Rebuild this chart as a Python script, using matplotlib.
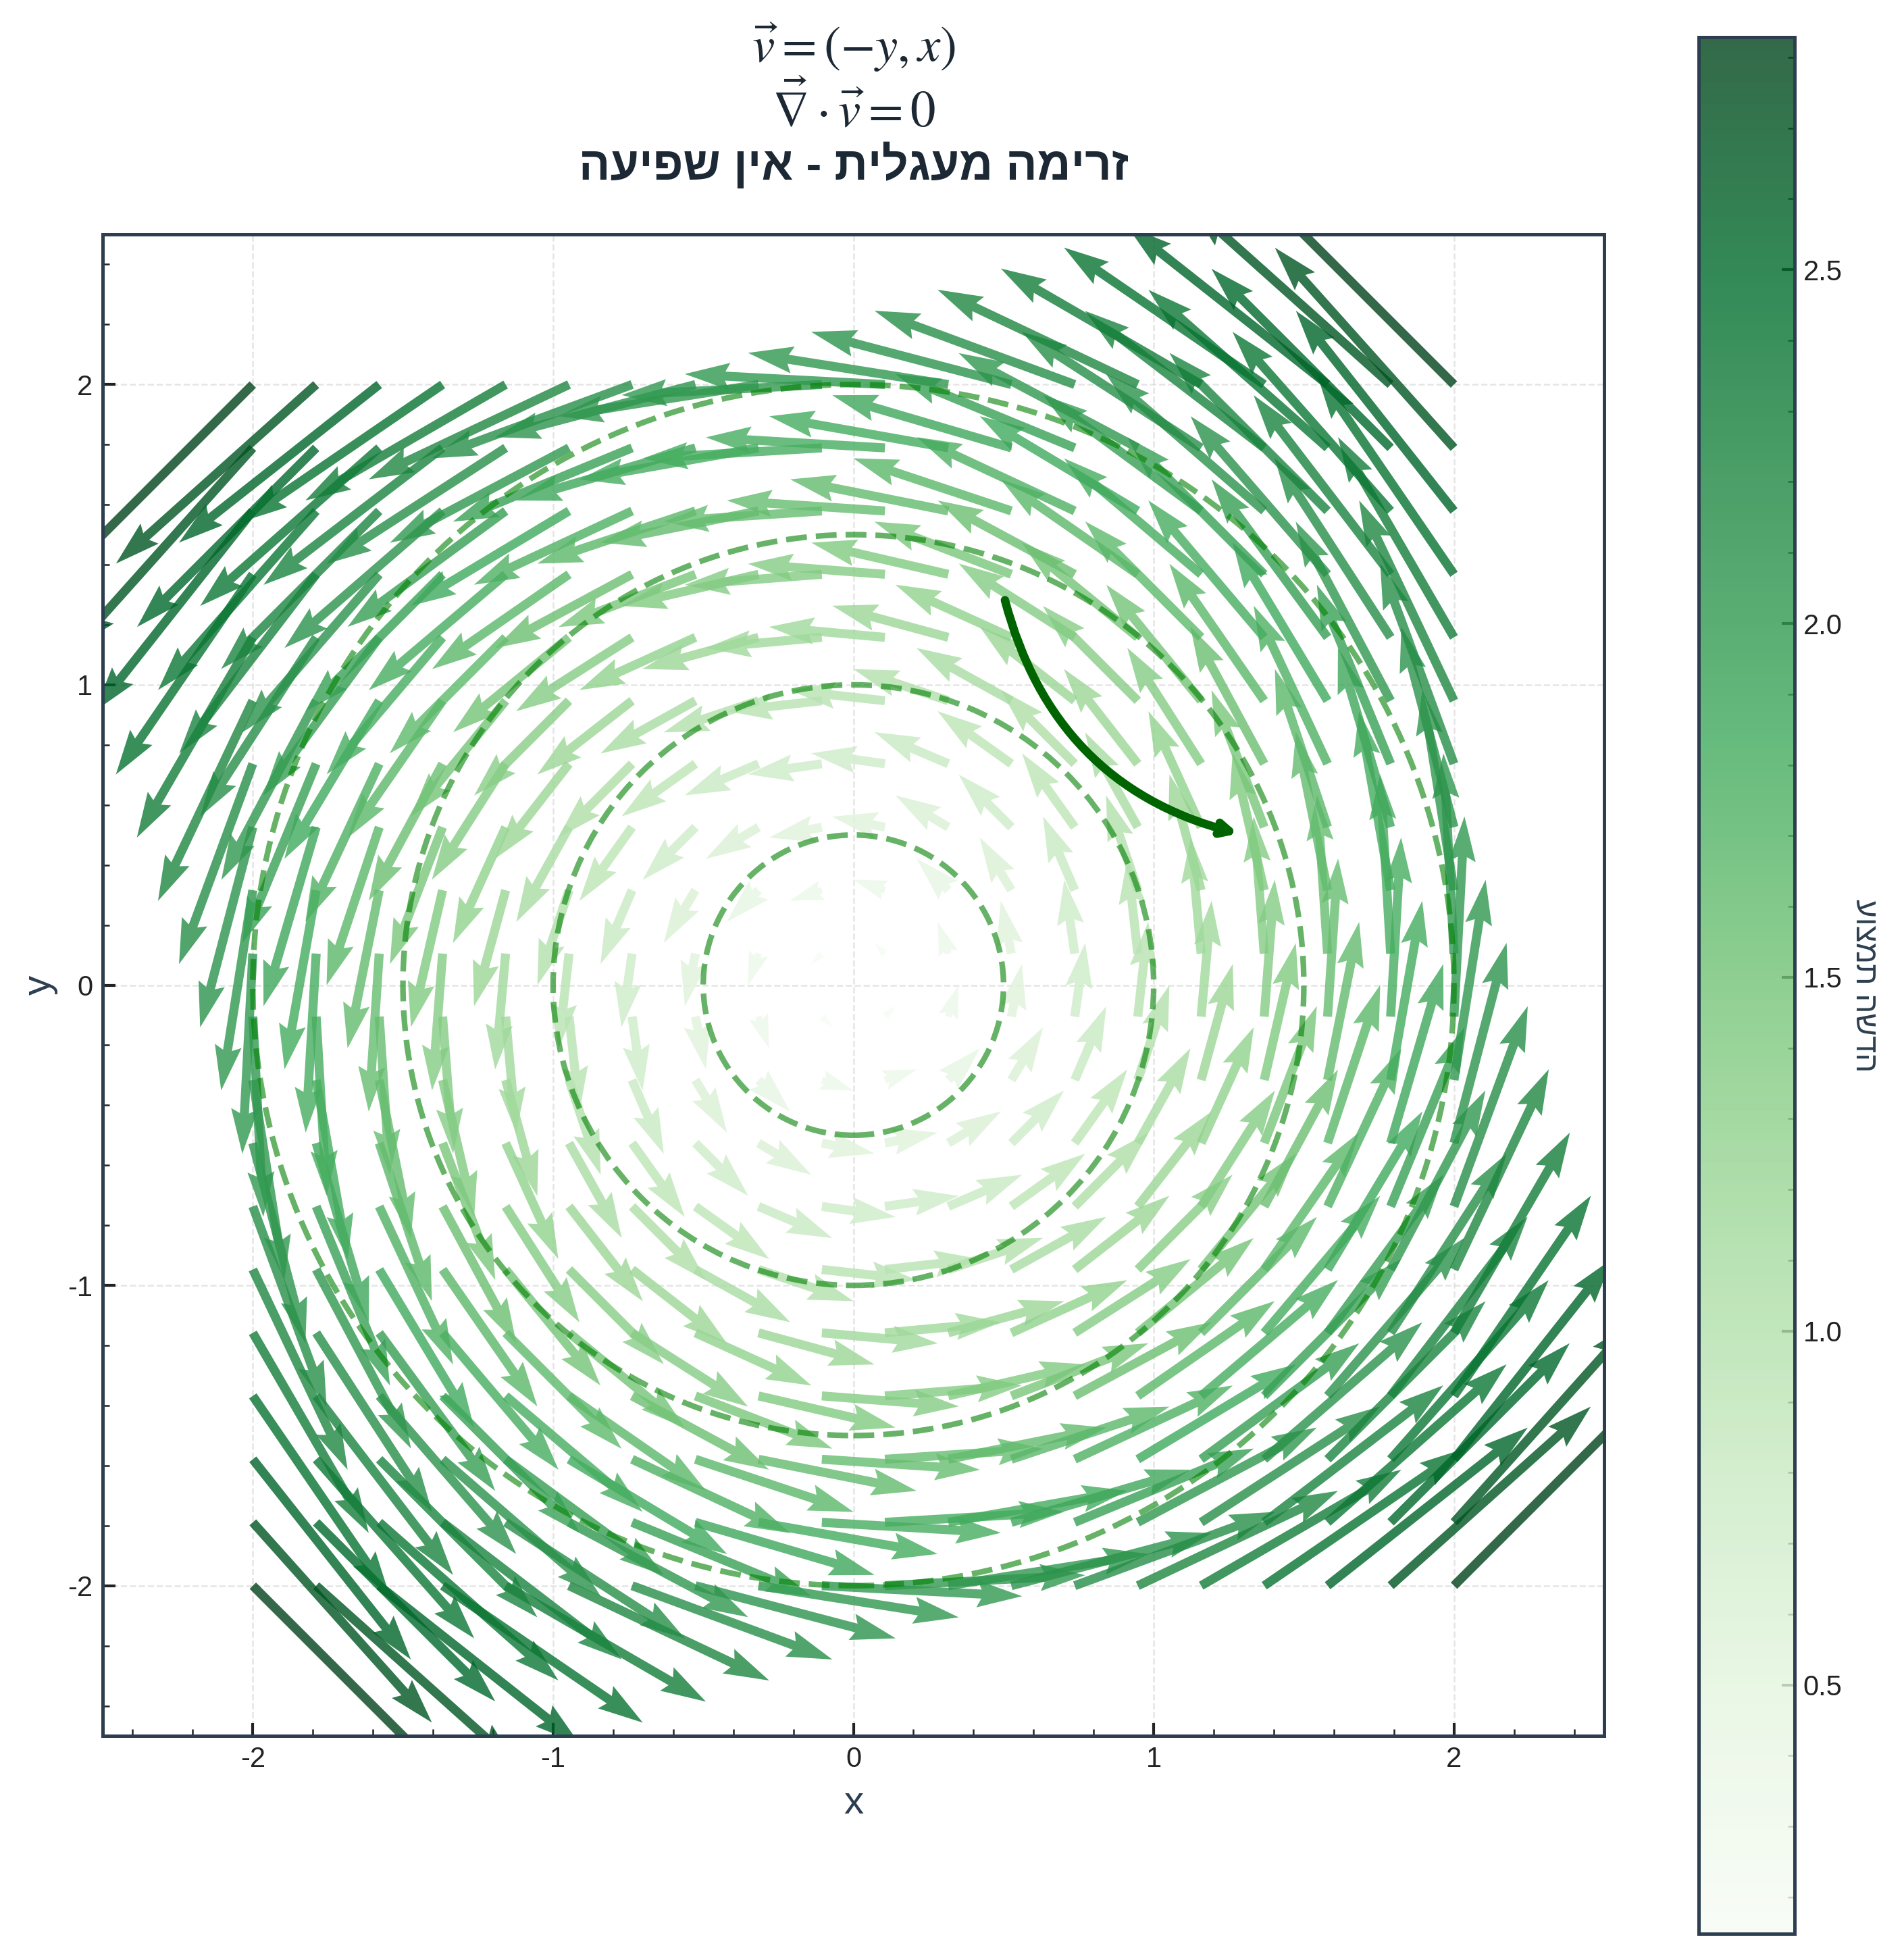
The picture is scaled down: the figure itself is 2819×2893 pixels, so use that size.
import numpy as np
import matplotlib
matplotlib.use("Agg")
import matplotlib.pyplot as plt
from matplotlib.patches import Circle
from matplotlib.ticker import AutoMinorLocator, MultipleLocator

plt.rcParams['font.family'] = ['Liberation Sans', 'DejaVu Sans']
plt.rcParams['mathtext.fontset'] = 'stix'
plt.rcParams['axes.unicode_minus'] = False
plt.rcParams['axes.axisbelow'] = True

# grid of the field, read from the arrow tails
x_vals = [-2.0, -1.789, -1.579, -1.368, -1.158, -0.947, -0.737, -0.526, -0.316, -0.105,
          0.105, 0.316, 0.526, 0.737, 0.947, 1.158, 1.368, 1.579, 1.789, 2.0]
y_vals = [-2.0, -1.789, -1.579, -1.368, -1.158, -0.947, -0.737, -0.526, -0.316, -0.105,
          0.105, 0.316, 0.526, 0.737, 0.947, 1.158, 1.368, 1.579, 1.789, 2.0]
# v = (-y, x): u for every row, v for every column
u_by_row = [2.0, 1.789, 1.579, 1.368, 1.158, 0.947, 0.737, 0.526, 0.316, 0.105,
            -0.105, -0.316, -0.526, -0.737, -0.947, -1.158, -1.368, -1.579, -1.789, -2.0]
v_by_col = [-2.0, -1.789, -1.579, -1.368, -1.158, -0.947, -0.737, -0.526, -0.316, -0.105,
            0.105, 0.316, 0.526, 0.737, 0.947, 1.158, 1.368, 1.579, 1.789, 2.0]
radii = [0.5, 1.0, 1.5, 2.0]
axis_ticks = [-2, -1, 0, 1, 2]
cbar_ticks = [0.5, 1.0, 1.5, 2.0, 2.5]

# matplotlib draws left to right, the title is reversed so it reads right,
# the colorbar label is not reversed in the reference
title_lines = [r"$\vec{v} = (-y, x)$", r"$\vec{\nabla} \cdot \vec{v} = 0$",
               "זרימה מעגלית - אין שפיעה"[::-1]]
cbar_label = "עוצמת השדה"

W, H = 2819, 2893
NAVY = '#2c3e50'
INK = '#222222'

fig = plt.figure(figsize=(W / 300, H / 300), dpi=300)
ax = fig.add_axes([152 / W, 1 - 2570 / H, 2223 / W, 2223 / H])
cax = fig.add_axes([2515 / W, 1 - 2863 / H, 142 / W, 2808 / H])

X, Y = np.meshgrid(x_vals, y_vals)
U, V = np.meshgrid(u_by_row, v_by_col, indexing='ij')
mag = np.hypot(U, V)

q = ax.quiver(X, Y, U, V, mag, cmap='Greens', alpha=0.8, scale=15, width=0.006, zorder=2)

for r in radii:
    ax.add_patch(Circle((0, 0), r, fill=False, color='green', ls='--', lw=2, alpha=0.6, zorder=3))

ax.annotate('', xy=(1.3, 0.5), xytext=(0.5, 1.3),
            arrowprops=dict(arrowstyle='->', color='darkgreen', lw=3,
                            connectionstyle='arc3,rad=0.3'), zorder=5)

ax.set_xlim(-2.5, 2.5)
ax.set_ylim(-2.5, 2.5)
ax.set_xticks(axis_ticks)
ax.set_yticks(axis_ticks)
ax.xaxis.set_minor_locator(AutoMinorLocator(5))
ax.yaxis.set_minor_locator(AutoMinorLocator(5))
ax.tick_params(which='major', direction='in', length=4.5, width=1, labelsize=10, colors=INK, pad=3.5)
ax.tick_params(which='minor', direction='in', length=2.5, width=0.6, colors=INK)
ax.grid(True, which='major', color='#cccccc', ls='--', lw=0.6, alpha=0.5)
ax.set_xlabel('x', fontsize=14, color=NAVY, labelpad=4.5)
ax.set_ylabel('y', fontsize=14, color=NAVY, labelpad=3.5)
for s in ax.spines.values():
    s.set_edgecolor(NAVY)
    s.set_linewidth(1.2)

# title, one line at a time so the Hebrew line can be bold
fig.text(1264 / W, 1 - 70 / H, title_lines[0], ha='center', va='center', fontsize=18, color='#1c2833')
fig.text(1264 / W, 1 - 162 / H, title_lines[1], ha='center', va='center', fontsize=18, color='#1c2833')
fig.text(1264 / W, 1 - 245 / H, title_lines[2], ha='center', va='center', fontsize=16.5,
         fontweight='bold', color='#1c2833')

cbar = fig.colorbar(q, cax=cax)
cbar.set_ticks(cbar_ticks)
cbar.ax.yaxis.set_minor_locator(MultipleLocator(0.1))
cbar.ax.tick_params(which='major', direction='in', length=4.5, width=1, labelsize=10, colors=INK, pad=3)
cbar.ax.tick_params(which='minor', direction='in', length=2.5, width=0.6, colors=INK)
cbar.outline.set_edgecolor(NAVY)
cbar.outline.set_linewidth(1.2)
cbar.set_label(cbar_label, fontsize=11, color=NAVY, rotation=270, labelpad=13)

fig.savefig('out.png', dpi=300)
